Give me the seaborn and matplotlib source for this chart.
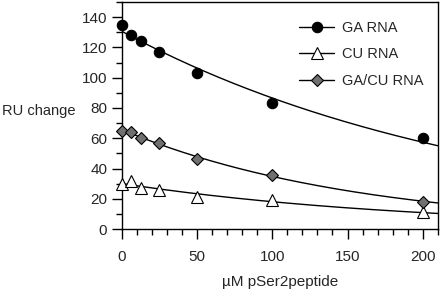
#!/usr/bin/env python3
import numpy as np
import pandas as pd
import matplotlib
matplotlib.use("Agg")
import matplotlib.pyplot as plt
import seaborn as sns
from matplotlib.ticker import MultipleLocator

# peptide concentration (uM)
conc = [0, 6.25, 12.5, 25, 50, 100, 200]
# RU change per RNA
ga_rna = [135, 128, 124, 117, 103, 83, 60]
cu_rna = [30, 32, 27, 26, 21, 19, 11]
gacu_rna = [65, 64, 60, 57, 46.5, 36, 18]
series_names = ["GA RNA", "CU RNA", "GA/CU RNA"]

df = pd.DataFrame({"conc": conc * 3,
                   "ru": ga_rna + cu_rna + gacu_rna,
                   "rna": sum([[n] * len(conc) for n in series_names], [])})

sns.set_style("ticks")
plt.rcParams['font.family'] = ['Liberation Sans', 'DejaVu Sans']

fig = plt.figure(figsize=(4.4, 2.9), dpi=100)
ax = fig.add_axes([0.277, 0.21, 0.718, 0.783])

styles = {
    "GA RNA": dict(marker="o", mfc="black", ms=7.5),
    "CU RNA": dict(marker="^", mfc="white", ms=8),
    "GA/CU RNA": dict(marker="D", mfc="#707070", ms=6),
}

xs = np.linspace(0, 210, 200)
handles = []
for name in series_names:
    sub = df[df.rna == name]
    # exponential decay fit of the measured points
    k, b = np.polyfit(sub.conc, np.log(sub.ru), 1, w=np.sqrt(sub.ru))
    sns.lineplot(x=xs, y=np.exp(b + k * xs), ax=ax, color="black", lw=1.0)
    st = styles[name]
    ax.plot(sub.conc, sub.ru, ls="none", marker=st["marker"], ms=st["ms"],
            mfc=st["mfc"], mec="black", mew=0.8, clip_on=False, zorder=3)
    h, = ax.plot([], [], color="black", lw=1.0, marker=st["marker"],
                 ms=st["ms"], mfc=st["mfc"], mec="black", mew=0.8)
    handles.append(h)

ax.set_xlim(0, 210)
ax.set_ylim(0, 150)
ax.xaxis.set_major_locator(MultipleLocator(50))
ax.xaxis.set_minor_locator(MultipleLocator(10))
ax.yaxis.set_major_locator(MultipleLocator(20))
ax.yaxis.set_minor_locator(MultipleLocator(10))
ax.set_yticks(np.arange(0, 141, 20))
ax.tick_params(which="major", length=7, width=1, labelsize=11, direction="out", color="black")
ax.tick_params(which="minor", length=4, width=1, direction="out", color="black")
ax.tick_params(axis="x", pad=8)
for sp in ax.spines.values():
    sp.set_color("black")
    sp.set_linewidth(1)

ax.set_xlabel("\u00b5M pSer2peptide", fontsize=11, labelpad=8)
ax.set_ylabel("RU change", fontsize=10.5, rotation=0, ha="left", va="center")
ax.yaxis.set_label_coords(-0.38, 0.52)

ax.legend(handles, series_names, loc="upper right", frameon=False, fontsize=10.5,
          handlelength=2.4, handletextpad=0.5, labelspacing=0.85,
          bbox_to_anchor=(0.995, 0.975))

fig.savefig("out.png", dpi=100)
